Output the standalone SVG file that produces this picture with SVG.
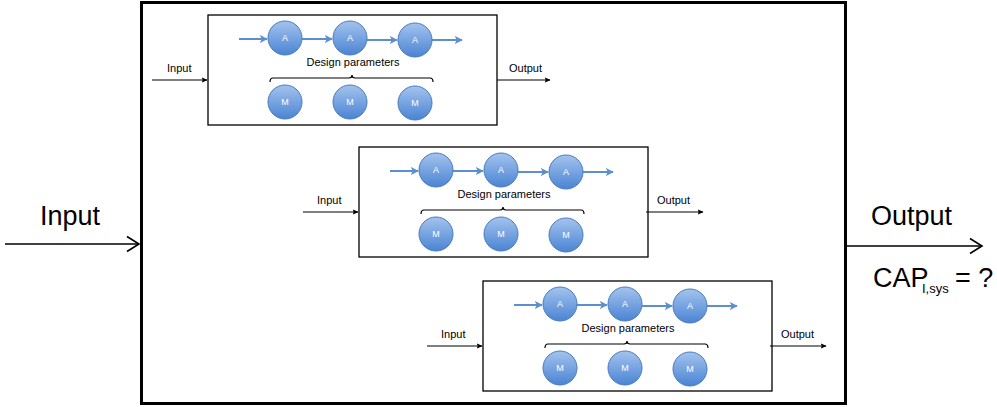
<svg xmlns="http://www.w3.org/2000/svg" xmlns:xlink="http://www.w3.org/1999/xlink" width="997" height="407" viewBox="0 0 997 407">
  <style>
    .box { fill: #ffffff; stroke: #000000; stroke-width: 1.3; }
    .outer { fill: #ffffff; stroke: #000000; stroke-width: 3; }
    .bead { fill: url(#beadFill); stroke: #4a7bbd; stroke-width: 1; }
    .bead-label { font-family: "Liberation Sans", Arial, sans-serif; font-size: 9px; fill: #ffffff; text-anchor: middle; }
    .flow { stroke: #5b8fd0; stroke-width: 2; fill: none; marker-end: url(#blueHead); }
    .lbl { font-family: "Liberation Sans", Arial, sans-serif; font-size: 11px; fill: #000000; }
    .big { font-family: "Liberation Sans", Arial, sans-serif; font-size: 27px; fill: #000000; }
    .thin { stroke: #000000; stroke-width: 1; fill: none; marker-end: url(#smallHead); }
    .thick { stroke: #000000; stroke-width: 1.6; fill: none; }
    .brace { stroke: #000000; stroke-width: 1.2; fill: none; }
  </style>
  <defs>
    <linearGradient id="beadFill" x1="0" y1="0" x2="0" y2="1">
      <stop offset="0" stop-color="#a4c3ee"/>
      <stop offset="1" stop-color="#4a84d3"/>
    </linearGradient>
    <marker id="blueHead" viewBox="0 0 10 10" refX="9" refY="5" markerWidth="4" markerHeight="4" orient="auto" markerUnits="strokeWidth">
      <path d="M0,0 L10,5 L0,10 L2.5,5 Z" fill="#5b8fd0"/>
    </marker>
    <marker id="smallHead" viewBox="0 0 10 10" refX="9" refY="5" markerWidth="6" markerHeight="6" orient="auto" markerUnits="strokeWidth">
      <path d="M0,0.5 L10,5 L0,9.5 L2,5 Z" fill="#000000"/>
    </marker>
    <!-- one processing stage: bead chain, design-parameter brace and machine beads -->
    <g id="stage">
      <rect class="box" x="0" y="0" width="289" height="110"/>
      <line class="flow" x1="31" y1="24" x2="59" y2="24"/>
      <line class="flow" x1="94" y1="24" x2="124" y2="24"/>
      <line class="flow" x1="159" y1="25" x2="189" y2="25"/>
      <line class="flow" x1="224" y1="25" x2="254" y2="25"/>
      <circle class="bead" cx="77" cy="23" r="17"/>
      <circle class="bead" cx="142" cy="23" r="17"/>
      <circle class="bead" cx="207" cy="25" r="17"/>
      <text class="bead-label" x="77" y="26">A</text>
      <text class="bead-label" x="142" y="26">A</text>
      <text class="bead-label" x="207" y="28">A</text>
      <text class="lbl" x="145" y="51" text-anchor="middle" font-size="10.5">Design parameters</text>
      <path class="brace" d="M62,67 Q62,63 65,63 L141,63 Q144,63 144,60 Q144,63 147,63 L222,63 Q225,63 225,67"/>
      <circle class="bead" cx="77" cy="87" r="17"/>
      <circle class="bead" cx="142" cy="87" r="17"/>
      <circle class="bead" cx="207" cy="88" r="17"/>
      <text class="bead-label" x="77" y="90">M</text>
      <text class="bead-label" x="142" y="90">M</text>
      <text class="bead-label" x="207" y="91">M</text>
    </g>
  </defs>

  <g id="system">
    <rect class="outer" x="141.5" y="2.5" width="704" height="401"/>
  </g>

  <g id="stage1" transform="translate(208,15)">
    <use xlink:href="#stage"/>
  </g>
  <g id="stage2" transform="translate(359,147)">
    <use xlink:href="#stage"/>
  </g>
  <g id="stage3" transform="translate(483,281)">
    <use xlink:href="#stage"/>
  </g>

  <g id="connectors">
    <!-- stage 1 -->
    <line class="thin" x1="152" y1="80" x2="207" y2="80"/>
    <text class="lbl" x="167" y="72">Input</text>
    <line class="thin" x1="497" y1="80" x2="550" y2="80"/>
    <text class="lbl" x="509" y="72">Output</text>
    <!-- stage 2 -->
    <line class="thin" x1="303" y1="212" x2="358" y2="212"/>
    <text class="lbl" x="317" y="204">Input</text>
    <line class="thin" x1="646" y1="212" x2="703" y2="212"/>
    <text class="lbl" x="657" y="204">Output</text>
    <!-- stage 3 -->
    <line class="thin" x1="427" y1="346" x2="482" y2="346"/>
    <text class="lbl" x="441" y="338">Input</text>
    <line class="thin" x1="770" y1="346" x2="826" y2="346"/>
    <text class="lbl" x="781" y="338">Output</text>
    <!-- system input -->
    <line class="thick" x1="5" y1="244" x2="139" y2="244"/>
    <polyline class="thick" stroke-width="2.4" points="127,236.5 139,244 127,251.5"/>
    <text class="big" x="40" y="225">Input</text>
    <!-- system output -->
    <line class="thick" x1="847" y1="246" x2="982" y2="246"/>
    <polyline class="thick" stroke-width="2.4" points="970,238.5 982,246 970,253.5"/>
    <text class="big" x="871" y="225">Output</text>
    <text class="big" x="873" y="287" font-size="22">CAP<tspan font-size="13" x="922" y="293">I,sys</tspan><tspan x="955" y="287">= ?</tspan></text>
  </g>
</svg>
